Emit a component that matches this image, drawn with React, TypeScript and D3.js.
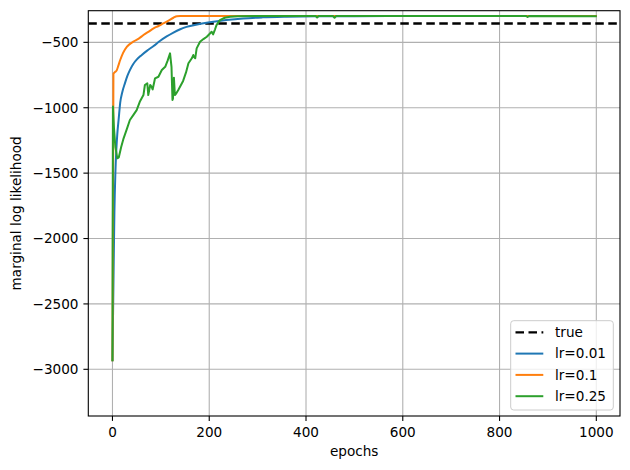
import React from "react";
import * as d3 from "d3";

const xTicks = [0, 200, 400, 600, 800, 1000];
const yTicks = [-3000, -2500, -2000, -1500, -1000, -500];
const trueValue = -355;

const lr001Epochs = [0, 2, 4, 6, 8, 10, 13, 16, 20, 26, 31, 36, 43, 50, 60, 71, 85, 98, 112, 126, 140, 153, 170, 201, 235, 270, 310, 360, 420, 500, 650, 999];
const lr001Values = [-2930, -2350, -1800, -1500, -1320, -1200, -1080, -960, -885, -810, -755, -712, -665, -632, -598, -565, -528, -490, -455, -425, -400, -382, -368, -347, -330, -317, -309, -304, -301, -300, -299, -299];

const lr01Epochs = [0, 2, 5, 9, 12, 16, 22, 30, 43, 55, 64, 75, 85, 95, 105, 115, 126, 133, 140, 200, 400, 600, 800, 999];
const lr01Values = [-2930, -740, -728, -712, -680, -635, -580, -533, -495, -470, -444, -418, -393, -375, -355, -335, -312, -300, -299, -299, -299, -299, -299, -299];

const lr025Epochs = [0, 1, 3, 6, 10, 13, 18, 23, 30, 36, 43, 50, 57, 64, 67, 72, 74, 78, 81, 83, 88, 95, 102, 109, 114, 119, 122, 124, 125, 127, 129, 132, 136, 141, 146, 152, 157, 164, 167, 169, 171, 174, 181, 188, 195, 205, 208, 212, 215, 222, 232, 243, 260, 300, 420, 423, 426, 456, 459, 462, 600, 855, 858, 861, 999];
const lr025Values = [-2930, -990, -1150, -1300, -1387, -1380, -1300, -1234, -1160, -1094, -1056, -1018, -950, -903, -826, -813, -903, -826, -840, -860, -775, -763, -712, -687, -640, -584, -687, -941, -930, -770, -903, -890, -865, -830, -795, -730, -660, -622, -597, -615, -622, -546, -495, -475, -457, -419, -439, -400, -368, -330, -312, -304, -300, -299, -299, -310, -299, -299, -312, -299, -299, -299, -306, -299, -300];

const seriesNames = ["lr=0.01", "lr=0.1", "lr=0.25"];
const seriesColors = ["#1f77b4", "#ff7f0e", "#2ca02c"];

const W = 630;
const H = 470;
const left = 88.3;
const right = 620;
const top = 10.7;
const bottom = 416;
const FONT = "DejaVu Sans, sans-serif";
const FS = 13.6;

export default function App() {
  const x = d3.scaleLinear().domain([-49.95, 1048.95]).range([left, right]);
  const y = d3.scaleLinear().domain([-3357, -258]).range([bottom, top]);
  const smoothLine = d3
    .line<[number, number]>()
    .x((d) => x(d[0]))
    .y((d) => y(d[1]))
    .curve(d3.curveMonotoneX);
  const rawLine = d3
    .line<[number, number]>()
    .x((d) => x(d[0]))
    .y((d) => y(d[1]));

  const series = [
    { epochs: lr001Epochs, values: lr001Values, gen: smoothLine },
    { epochs: lr01Epochs, values: lr01Values, gen: smoothLine },
    { epochs: lr025Epochs, values: lr025Values, gen: rawLine },
  ];

  const fmt = (v: number) => (v < 0 ? "\u2212" + Math.abs(v) : String(v));

  const legendItems = [
    { label: "true", color: "#000", dash: "8.5,4.5", w: 2.3 },
    ...seriesNames.map((n, i) => ({ label: n, color: seriesColors[i], dash: undefined as string | undefined, w: 2 })),
  ];

  return (
    <svg
      width={W}
      height={H}
      style={{ position: "absolute", left: 0, top: 0, background: "#fff" }}
      fontFamily={FONT}
    >
      <rect x={0} y={0} width={W} height={H} fill="#fff" />
      <defs>
        <clipPath id="plotclip">
          <rect x={left} y={top} width={right - left} height={bottom - top} />
        </clipPath>
      </defs>
      {xTicks.map((t) => (
        <line key={"gx" + t} x1={x(t)} x2={x(t)} y1={top} y2={bottom} stroke="#b0b0b0" strokeWidth={1.1} />
      ))}
      {yTicks.map((t) => (
        <line key={"gy" + t} x1={left} x2={right} y1={y(t)} y2={y(t)} stroke="#b0b0b0" strokeWidth={1.1} />
      ))}
      <g clipPath="url(#plotclip)">
        <line
          x1={left}
          x2={right}
          y1={y(trueValue)}
          y2={y(trueValue)}
          stroke="#000"
          strokeWidth={2.5}
          strokeDasharray="8.5,4.5"
        />
        {series.map((s, i) => (
          <path
            key={i}
            d={s.gen(s.epochs.map((e, j) => [e, s.values[j]] as [number, number])) || ""}
            fill="none"
            stroke={seriesColors[i]}
            strokeWidth={2}
            strokeLinejoin="round"
            strokeLinecap="square"
          />
        ))}
      </g>
      <rect x={left} y={top} width={right - left} height={bottom - top} fill="none" stroke="#000" strokeWidth={1.1} />
      {xTicks.map((t) => (
        <g key={"xt" + t}>
          <line x1={x(t)} x2={x(t)} y1={bottom} y2={bottom + 4.9} stroke="#000" strokeWidth={1.1} />
          <text x={x(t)} y={bottom + 21} fontSize={FS} textAnchor="middle" fill="#000">
            {fmt(t)}
          </text>
        </g>
      ))}
      {yTicks.map((t) => (
        <g key={"yt" + t}>
          <line x1={left - 4.9} x2={left} y1={y(t)} y2={y(t)} stroke="#000" strokeWidth={1.1} />
          <text x={left - 9.8} y={y(t)} dy="0.35em" fontSize={FS} textAnchor="end" fill="#000">
            {fmt(t)}
          </text>
        </g>
      ))}
      <text x={(left + right) / 2} y={456} fontSize={FS} textAnchor="middle" fill="#000">
        epochs
      </text>
      <text
        transform={`translate(20.5, ${(top + bottom) / 2}) rotate(-90)`}
        fontSize={FS}
        textAnchor="middle"
        fill="#000"
      >
        marginal log likelihood
      </text>
      <g>
        <rect x={510.7} y={320.7} width={102.6} height={89.3} rx={3} fill="#fff" fillOpacity={0.8} stroke="#cccccc" strokeWidth={1} />
        {legendItems.map((it, i) => {
          const cy = 332.3 + i * 21.3;
          return (
            <g key={it.label}>
              <line x1={515.5} x2={543.3} y1={cy} y2={cy} stroke={it.color} strokeWidth={it.w} strokeDasharray={it.dash} />
              <text x={555} y={cy} dy="0.35em" fontSize={FS} fill="#000">
                {it.label}
              </text>
            </g>
          );
        })}
      </g>
    </svg>
  );
}
